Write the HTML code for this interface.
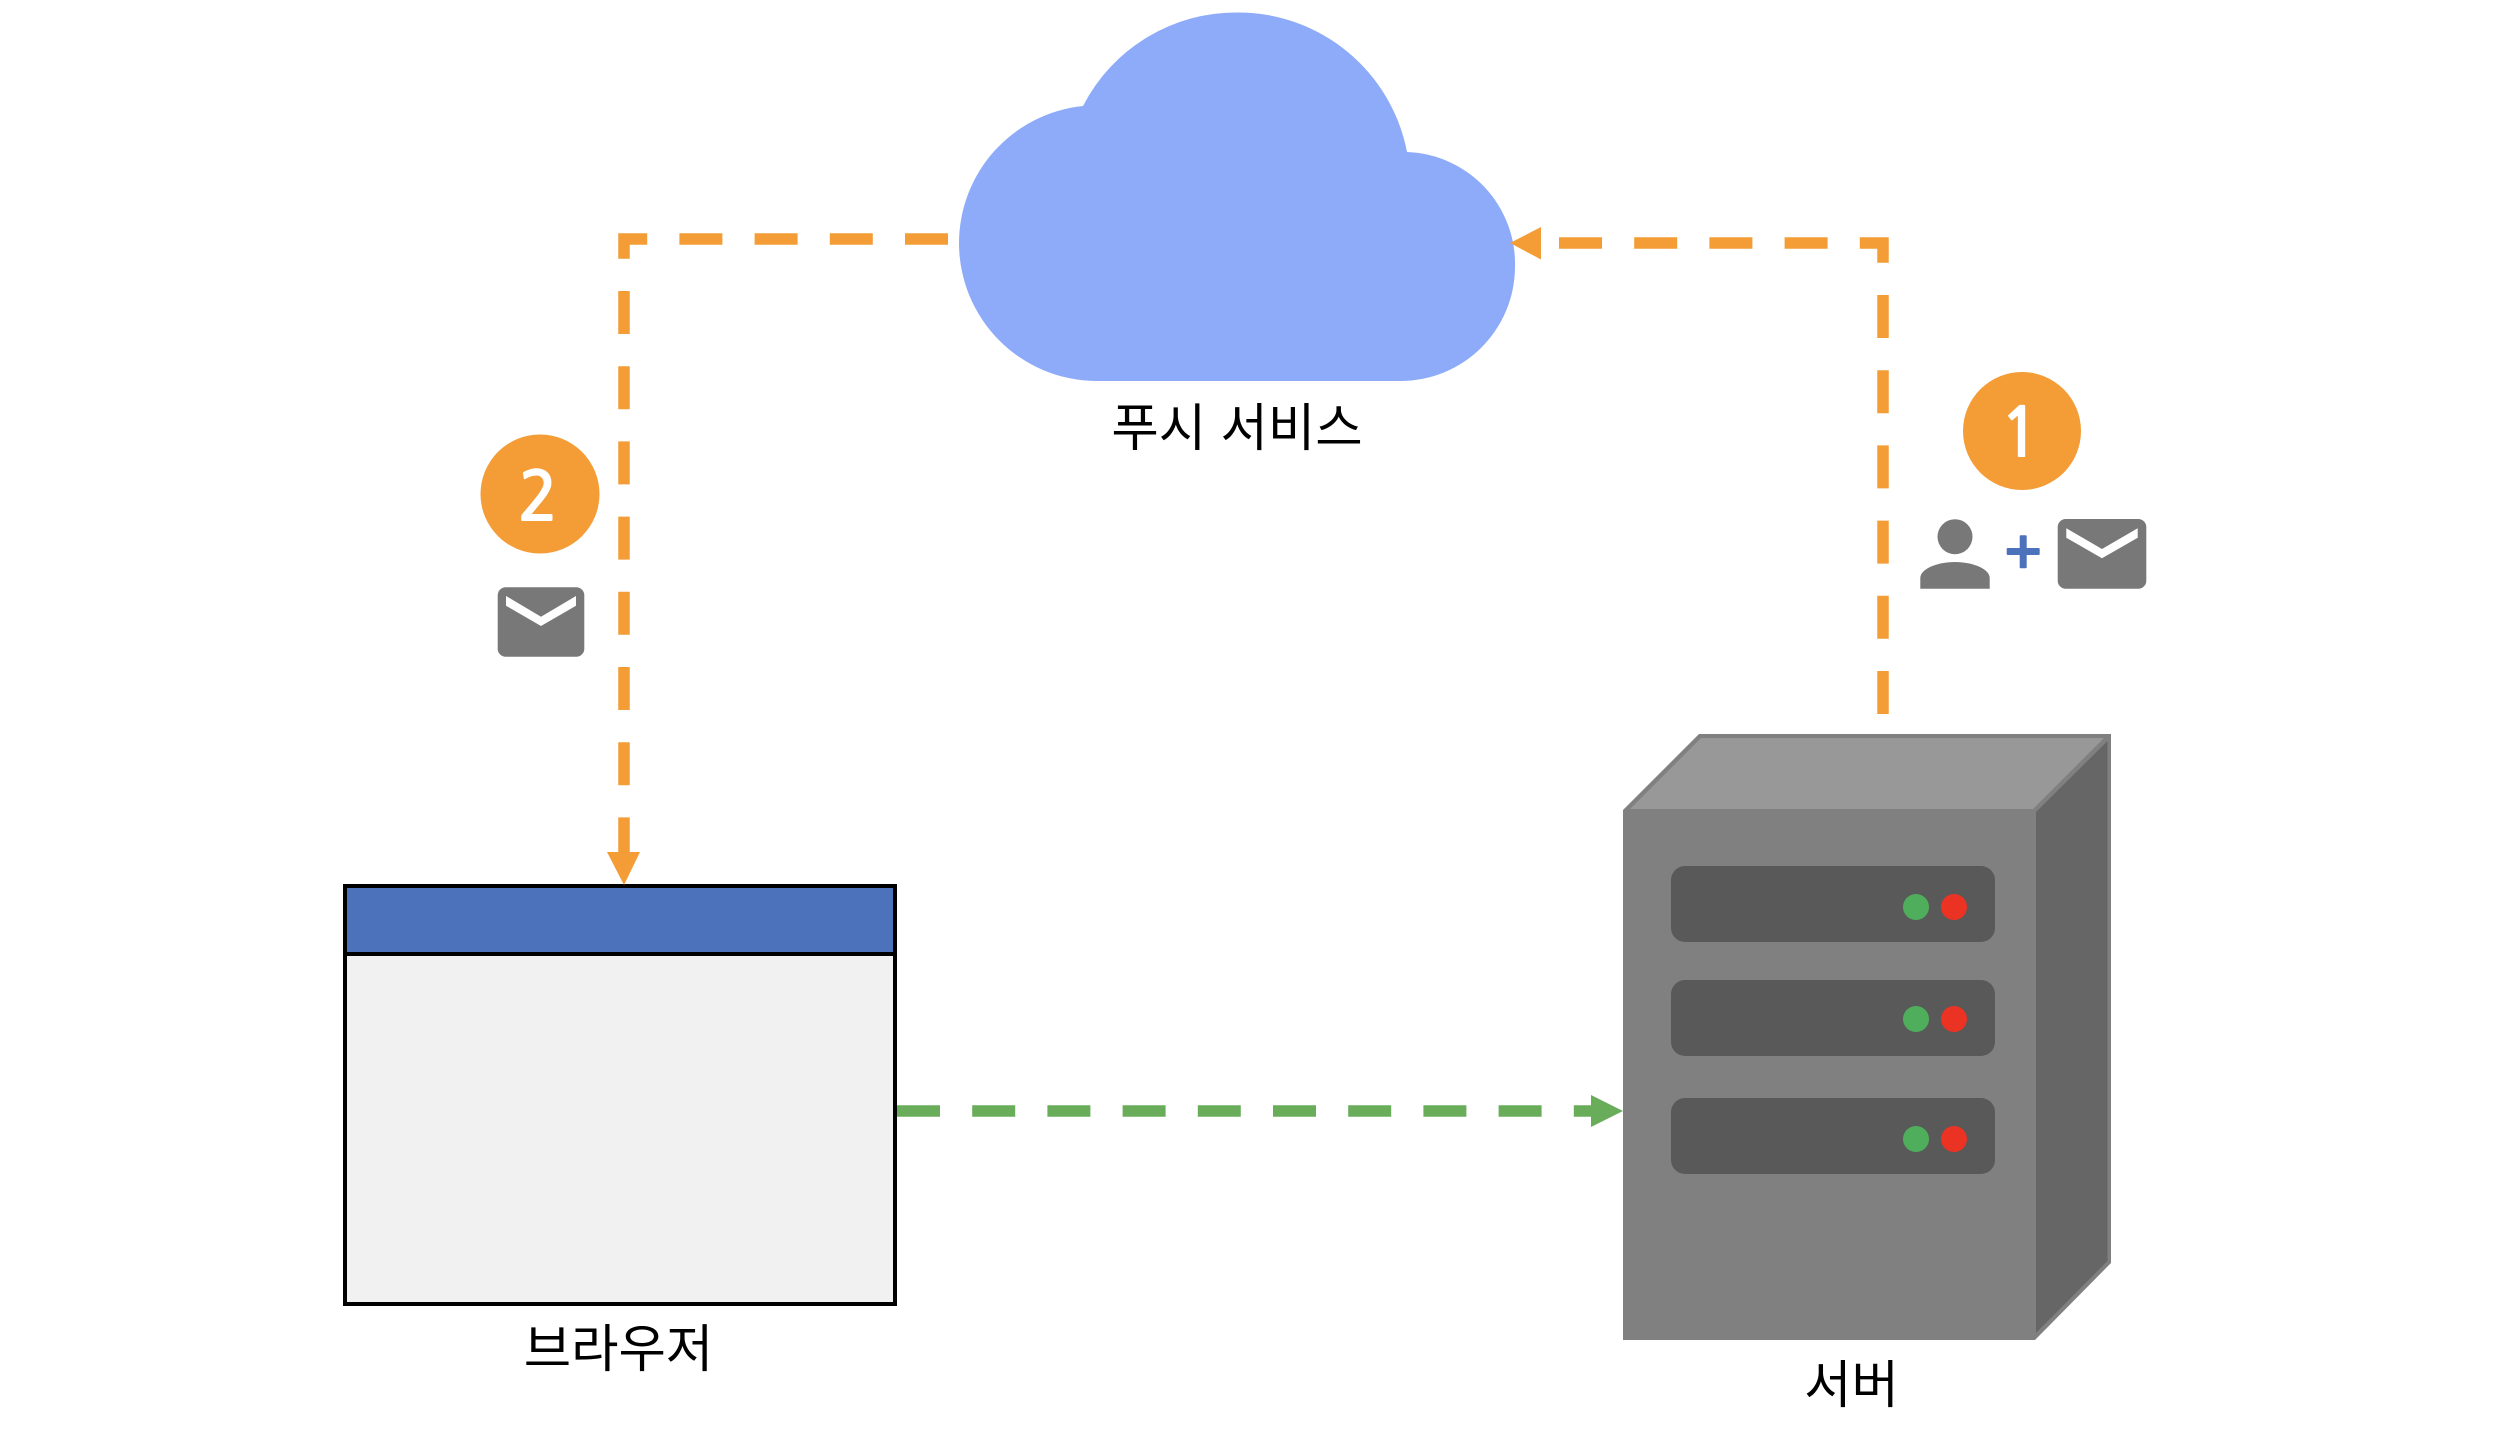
<!DOCTYPE html>
<html lang="ko">
<head>
<meta charset="utf-8">
<style>
html,body{margin:0;padding:0;background:#fff;}
svg{display:block;}
text{font-family:"Liberation Sans","Noto Sans CJK KR",sans-serif;}
.d{font-family:"NanumGothic","Liberation Sans",sans-serif;font-weight:700;font-size:68px;fill:#fff;text-anchor:middle;}
.l{font-size:51.5px;fill:#000;text-anchor:middle;}
</style>
</head>
<body>
<svg width="2502" height="1444" viewBox="0 0 2502 1444" xmlns="http://www.w3.org/2000/svg">
<rect width="2502" height="1444" fill="#fff"/>
<!-- cloud -->
<path d="M1083 106 A172 172 0 0 1 1238 12.5 A172 172 0 0 1 1407 152 A112 112 0 0 1 1515 267 A114.5 114.5 0 0 1 1400 381 L1096 381 A138 138 0 0 1 959 243 A138 138 0 0 1 1083 106 Z" fill="#8eabf9"/>
<!-- browser -->
<rect x="345" y="886" width="550" height="418" fill="#f1f1f1" stroke="#000" stroke-width="4"/>
<rect x="345" y="886" width="550" height="68" fill="#4d72bc" stroke="#000" stroke-width="4"/>
<!-- server -->
<polygon points="1623,810 1699,734 2111,734 2111,1263 2035,1340 1623,1340" fill="#808080"/>
<polygon points="1630,809 1701,738 2104,738 2033,809" fill="#989898"/>
<polygon points="2036,812 2107.5,741 2107.5,1261 2036,1333" fill="#666666"/>
<rect x="1671" y="866" width="324" height="76" rx="14" fill="#595959"/>
<rect x="1671" y="980" width="324" height="76" rx="14" fill="#595959"/>
<rect x="1671" y="1098" width="324" height="76" rx="14" fill="#595959"/>
<circle cx="1916" cy="907" r="13" fill="#4fae5c"/><circle cx="1954" cy="907" r="13" fill="#eb3323"/>
<circle cx="1916" cy="1019" r="13" fill="#4fae5c"/><circle cx="1954" cy="1019" r="13" fill="#eb3323"/>
<circle cx="1916" cy="1139" r="13" fill="#4fae5c"/><circle cx="1954" cy="1139" r="13" fill="#eb3323"/>
<!-- connectors -->
<path d="M948 239 H624 V852" fill="none" stroke="#f49d37" stroke-width="11.5" stroke-dasharray="43 32.2"/>
<polygon points="607,852 640,852 624,885" fill="#f49d37"/>
<path d="M1883 714 V243 H1541" fill="none" stroke="#f49d37" stroke-width="11.5" stroke-dasharray="43 32.2"/>
<polygon points="1541,227 1541,259.5 1510,243" fill="#f49d37"/>
<path d="M897 1111 H1591" fill="none" stroke="#69ad5b" stroke-width="11.5" stroke-dasharray="43 32.2"/>
<polygon points="1591,1095 1591,1127 1623,1111" fill="#69ad5b"/>
<!-- badge 1 -->
<circle cx="2022" cy="431" r="59" fill="#f49d37"/>
<text class="d" x="2020" y="457">1</text>
<!-- person -->
<circle cx="1955" cy="536.7" r="17.5" fill="#787878"/>
<path d="M1920.3 588.7 V578 C1920.3 569 1937 562 1955 562 C1973 562 1989.7 569 1989.7 578 V588.7 Z" fill="#787878"/>
<!-- plus -->
<rect x="2006.7" y="548" width="33" height="7" rx="1" fill="#4d72bc"/>
<rect x="2019.7" y="535.3" width="7" height="33" rx="1" fill="#4d72bc"/>
<!-- envelope 1 -->
<rect x="2057.7" y="519" width="88.6" height="69.7" rx="8" fill="#787878"/>
<polygon points="2066.3,528.3 2102,549 2137.7,528.3 2137.7,537.7 2102,558.3 2066.3,537.7" fill="#fff"/>
<!-- badge 2 -->
<circle cx="540" cy="494" r="59.5" fill="#f49d37"/>
<text class="d" x="538" y="520.5">2</text>
<!-- envelope 2 -->
<rect x="497.7" y="587.3" width="86.6" height="69.4" rx="8" fill="#787878"/>
<polygon points="506,596 541,616.7 576,596 576,605.7 541,626 506,605.7" fill="#fff"/>
<!-- labels -->
<text class="l" x="1237" y="446">푸시 서비스</text>
<text class="l" x="618.5" y="1367">브라우저</text>
<text class="l" x="1851.5" y="1403">서버</text>
</svg>
</body>
</html>
